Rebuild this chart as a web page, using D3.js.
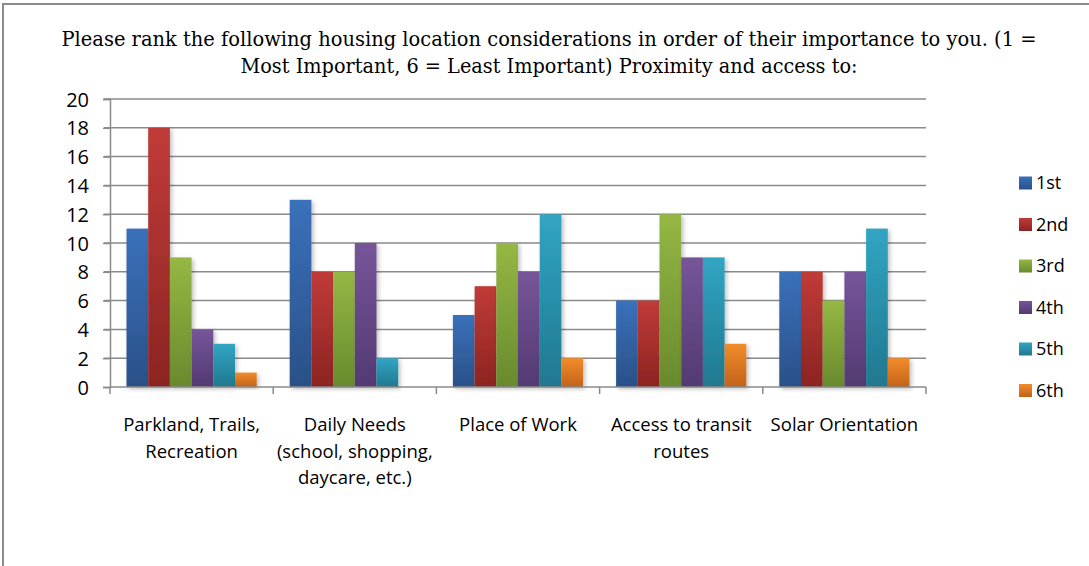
<!DOCTYPE html>
<html>
<head>
<meta charset="utf-8">
<script src="https://cdn.jsdelivr.net/npm/d3@7"></script>
<style>
  body { margin: 0; background: #fff; }
  text { font-family: "Open Sans", "Liberation Sans", sans-serif; fill: #000; }
</style>
</head>
<body>
<svg id="chart" width="1089" height="566"></svg>
<script>
// the data
const categories = [
  ["Parkland, Trails,", "Recreation"],
  ["Daily Needs", "(school, shopping,", "daycare, etc.)"],
  ["Place of Work"],
  ["Access to transit", "routes"],
  ["Solar Orientation"]
];
const seriesNames = ["1st", "2nd", "3rd", "4th", "5th", "6th"];
const first  = [11, 13, 5, 6, 8];
const second = [18, 8, 7, 6, 8];
const third  = [9, 8, 10, 12, 6];
const fourth = [4, 10, 8, 9, 8];
const fifth  = [3, 2, 12, 9, 11];
const sixth  = [1, 0, 2, 3, 2];
const yTicks = [0, 2, 4, 6, 8, 10, 12, 14, 16, 18, 20];
const titleLines = [
  "Please rank the following housing location considerations in order of their importance to you. (1 =",
  "Most Important, 6 = Least Important) Proximity and access to:"
];

const series = [first, second, third, fourth, fifth, sixth];
// top and bottom colours for each series gradient
const colors = [
  ["#3a71bb", "#2a5088"],
  ["#c03b38", "#8c2422"],
  ["#95b744", "#688a2d"],
  ["#765599", "#533a72"],
  ["#31a5c3", "#20788f"],
  ["#f28c2a", "#c2621a"]
];

let svg = d3.select("#chart"),
    width = +svg.attr("width"),
    height = +svg.attr("height");

// frame
svg.append("path")
    .attr("d", "M3,566 V4 H1089")
    .attr("fill", "none")
    .attr("stroke", "#8c8c8c")
    .attr("stroke-width", 2);

// title
const titleWidths = [975, 617];
let title = svg.append("text")
    .attr("text-anchor", "middle")
    .style("font-family", "'DejaVu Serif', serif")
    .style("font-size", "20px");
title.selectAll("tspan")
    .data(titleLines)
    .enter()
    .append("tspan")
    .attr("x", 549)
    .attr("y", (d, i) => 46 + i * 27)
    .attr("textLength", (d, i) => titleWidths[i])
    .attr("lengthAdjust", "spacingAndGlyphs")
    .text(d => d);

const margin = {left: 110, right: 926, top: 99, bottom: 387};

let x = d3.scaleBand()
    .domain(d3.range(categories.length))
    .range([margin.left, margin.right]);

let y = d3.scaleLinear()
    .domain([0, 20])
    .range([margin.bottom, margin.top]);

let inner = d3.scaleBand()
    .domain(d3.range(series.length))
    .range([0, x.bandwidth()])
    .paddingOuter(0.76);

// gradients
let defs = svg.append("defs");
colors.forEach(function(c, i) {
    let g = defs.append("linearGradient")
        .attr("id", "grad" + i)
        .attr("x1", 0).attr("y1", 0).attr("x2", 0).attr("y2", 1);
    g.append("stop").attr("offset", "0%").attr("stop-color", c[0]);
    g.append("stop").attr("offset", "100%").attr("stop-color", c[1]);
});
let filter = defs.append("filter").attr("id", "shadow")
    .attr("x", "-20%").attr("y", "-10%").attr("width", "150%").attr("height", "130%");
filter.append("feDropShadow")
    .attr("dx", 2).attr("dy", 2).attr("stdDeviation", 2)
    .attr("flood-color", "#000").attr("flood-opacity", 0.25);

// gridlines
svg.append("g")
    .selectAll("line")
    .data(yTicks.slice(1))
    .enter()
    .append("line")
    .attr("x1", margin.left - 6)
    .attr("x2", margin.right)
    .attr("y1", d => y(d))
    .attr("y2", d => y(d))
    .attr("stroke", "#8a8a8a")
    .attr("stroke-width", 1.5);

// y axis
let yAxis = svg.append("g")
    .attr("transform", "translate(" + margin.left + ",0)")
    .call(d3.axisLeft(y).tickValues(yTicks).tickSize(7).tickPadding(14));
yAxis.attr("font-size", null).attr("font-family", null);
yAxis.select(".domain").attr("stroke", "#8a8a8a").attr("stroke-width", 1.5);
yAxis.selectAll(".tick line").attr("stroke", "#8a8a8a").attr("stroke-width", 1.5);
yAxis.selectAll(".tick text")
    .style("font-size", "20px")
    .attr("dy", "0.35em");

// bars
let groups = svg.append("g")
    .selectAll("g")
    .data(categories)
    .enter()
    .append("g")
    .attr("transform", (d, i) => "translate(" + x(i) + ",0)");

groups.selectAll("rect")
    .data((d, i) => series.map((s, k) => ({k: k, v: s[i]})))
    .enter()
    .filter(d => d.v > 0)
    .append("rect")
    .attr("x", d => inner(d.k))
    .attr("width", inner.bandwidth())
    .attr("y", d => y(d.v))
    .attr("height", d => y(0) - y(d.v))
    .attr("fill", d => "url(#grad" + d.k + ")")
    .attr("filter", "url(#shadow)");

// x axis
let xAxis = svg.append("g");
xAxis.append("line")
    .attr("x1", margin.left).attr("x2", margin.right)
    .attr("y1", margin.bottom).attr("y2", margin.bottom)
    .attr("stroke", "#8a8a8a").attr("stroke-width", 1.5);
xAxis.selectAll(".xt")
    .data(d3.range(categories.length + 1))
    .enter()
    .append("line")
    .attr("x1", d => margin.left + d * x.step())
    .attr("x2", d => margin.left + d * x.step())
    .attr("y1", margin.bottom)
    .attr("y2", margin.bottom + 7)
    .attr("stroke", "#8a8a8a").attr("stroke-width", 1.5);

let labels = svg.append("g")
    .selectAll("text")
    .data(categories)
    .enter()
    .append("text")
    .attr("text-anchor", "middle")
    .style("font-size", "18.5px");
labels.each(function(lines, i) {
    d3.select(this).selectAll("tspan")
        .data(lines)
        .enter()
        .append("tspan")
        .attr("x", x(i) + x.bandwidth() / 2)
        .attr("y", (d, j) => 431 + j * 26.7)
        .text(d => d);
});

// legend
let legend = svg.append("g")
    .selectAll("g")
    .data(seriesNames)
    .enter()
    .append("g")
    .attr("transform", (d, i) => "translate(1019," + (183 + i * 41.5) + ")");
legend.append("rect")
    .attr("x", 0).attr("y", -6.5)
    .attr("width", 13).attr("height", 13)
    .attr("fill", (d, i) => "url(#grad" + i + ")");
legend.append("text")
    .attr("x", 17)
    .attr("dy", "0.35em")
    .style("font-size", "18px")
    .text(d => d);
</script>
</body>
</html>
